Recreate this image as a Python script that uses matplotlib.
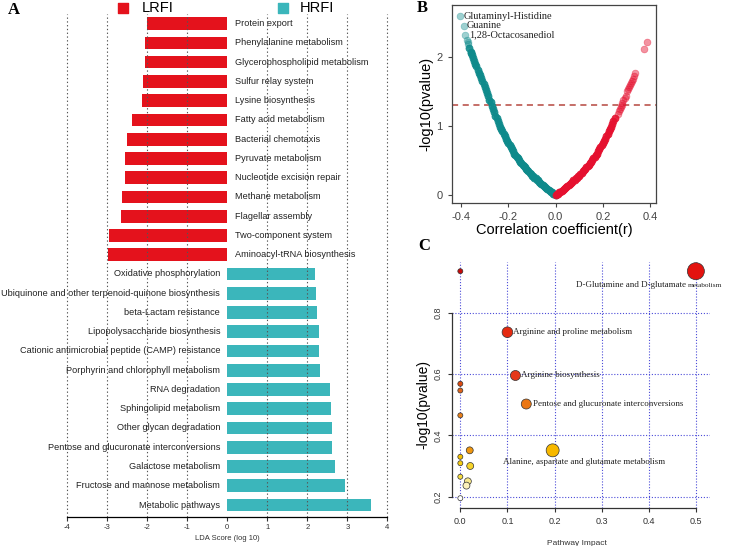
import matplotlib.pyplot as plt
import numpy as np

plt.rcParams['axes.unicode_minus'] = False
plt.rcParams['font.family'] = ['Liberation Sans', 'DejaVu Sans']

# ---- Panel A : LEfSe pathways
lrfi_paths = ["Protein export", "Phenylalanine metabolism", "Glycerophospholipid metabolism",
              "Sulfur relay system", "Lysine biosynthesis", "Fatty acid metabolism",
              "Bacterial chemotaxis", "Pyruvate metabolism", "Nucleotide excision repair",
              "Methane metabolism", "Flagellar assembly", "Two-component system",
              "Aminoacyl-tRNA biosynthesis"]
lrfi_lda = [-2.00, -2.05, -2.05, -2.12, -2.13, -2.38, -2.52, -2.55, -2.57, -2.64, -2.66, -2.95, -2.98]

hrfi_paths = ["Oxidative phosphorylation", "Ubiquinone and other terpenoid-quinone biosynthesis",
              "beta-Lactam resistance", "Lipopolysaccharide biosynthesis",
              "Cationic antimicrobial peptide (CAMP) resistance", "Porphyrin and chlorophyll metabolism",
              "RNA degradation", "Sphingolipid metabolism", "Other glycan degradation",
              "Pentose and glucuronate interconversions", "Galactose metabolism",
              "Fructose and mannose metabolism", "Metabolic pathways"]
hrfi_lda = [2.19, 2.22, 2.23, 2.28, 2.29, 2.32, 2.57, 2.60, 2.61, 2.62, 2.69, 2.95, 3.59]

# ---- Panel B : correlation volcano (r, -log10 p)
r_band = [0.000, 0.005, 0.010, 0.015, 0.020, 0.025, 0.030, 0.035, 0.040, 0.045, 0.050, 0.055,
          0.060, 0.065, 0.070, 0.075, 0.080, 0.085, 0.090, 0.095, 0.100, 0.105, 0.110, 0.115,
          0.120, 0.125, 0.130, 0.135, 0.140, 0.145, 0.150, 0.155, 0.160, 0.165, 0.170, 0.175,
          0.180, 0.185, 0.190, 0.195, 0.200, 0.205, 0.210, 0.215, 0.220, 0.225, 0.230, 0.235,
          0.240, 0.245, 0.250]
p_band = [0.00, 0.01, 0.02, 0.04, 0.05, 0.06, 0.07, 0.09, 0.10, 0.12, 0.13, 0.15,
          0.16, 0.18, 0.19, 0.21, 0.22, 0.24, 0.25, 0.27, 0.28, 0.30, 0.32, 0.34,
          0.36, 0.38, 0.40, 0.42, 0.44, 0.46, 0.48, 0.50, 0.53, 0.55, 0.58, 0.60,
          0.63, 0.66, 0.69, 0.72, 0.75, 0.78, 0.81, 0.85, 0.88, 0.92, 0.95, 0.99,
          1.03, 1.07, 1.11]
# negative side: dense band continues up to ~ -0.365
r_neg_dense = [-0.255, -0.260, -0.265, -0.270, -0.275, -0.280, -0.285, -0.290, -0.295, -0.300,
               -0.305, -0.310, -0.315, -0.320, -0.325, -0.330, -0.335, -0.340, -0.345, -0.350,
               -0.355, -0.358, -0.360, -0.365]
p_neg_dense = [1.15, 1.20, 1.25, 1.29, 1.34, 1.38, 1.43, 1.47, 1.52, 1.56,
               1.61, 1.65, 1.69, 1.73, 1.77, 1.81, 1.86, 1.90, 1.94, 1.98,
               2.03, 2.06, 2.07, 2.13]
r_neg_sparse = [-0.369, -0.373, -0.376, -0.382, -0.390, -0.404]
p_neg_sparse = [2.19, 2.22, 2.25, 2.32, 2.45, 2.59]
r_pos_sparse = [0.265, 0.270, 0.273, 0.277, 0.280, 0.283, 0.287, 0.292, 0.297, 0.303,
                0.308, 0.312, 0.316, 0.320, 0.324, 0.328, 0.333, 0.338, 0.376, 0.386]
p_pos_sparse = [1.17, 1.21, 1.24, 1.27, 1.30, 1.33, 1.37, 1.40, 1.44, 1.50,
                1.53, 1.56, 1.59, 1.62, 1.65, 1.68, 1.72, 1.76, 2.12, 2.21]
top_names = ["Glutaminyl-Histidine", "Guanine", "1,28-Octacosanediol"]
top_r = [-0.404, -0.390, -0.382]
top_p = [2.59, 2.45, 2.32]

# ---- Panel C : pathway analysis
impact = [0.0, 0.5, 0.10, 0.117, 0.14, 0.196, 0.0, 0.0, 0.0, 0.02, 0.0, 0.0, 0.021, 0.0, 0.016, 0.013, 0.0]
logp = [0.935, 0.935, 0.736, 0.595, 0.502, 0.351, 0.568, 0.546, 0.465, 0.351, 0.330, 0.309,
        0.300, 0.265, 0.250, 0.236, 0.195]
dot_size = [13, 150, 59, 52, 52, 87, 13, 13, 13, 25, 13, 13, 25, 13, 25, 25, 13]
dot_col = ['#c80a0a', '#e3130f', '#e42a10', '#e5381a', '#eb7612', '#f7b800', '#dd4a10', '#e0641a',
           '#e8801a', '#f0960e', '#f5c000', '#f6cc10', '#f6d32a', '#f6dc40', '#f9e98c', '#fcf1bb', '#ffffff']

W, H = 729, 546
fig = plt.figure(figsize=(W / 100, H / 100), dpi=100)


def axes_px(l, t, r, b):
    return fig.add_axes([l / W, 1 - b / H, (r - l) / W, (b - t) / H])


# ================= A
red, teal = '#e4121c', '#3bb6bb'
axA = axes_px(59.3, 14, 395.3, 517)
n = len(lrfi_paths) + len(hrfi_paths)
ypos = np.arange(n)[::-1]
ya, yb = ypos[:len(lrfi_paths)], ypos[len(lrfi_paths):]
axA.barh(ya, lrfi_lda, height=0.66, color=red, zorder=2)
axA.barh(yb, hrfi_lda, height=0.66, color=teal, zorder=2)
for y, lab in zip(ya, lrfi_paths):
    axA.text(0.19, y, lab, ha='left', va='center', fontsize=6.6, color='#222222', zorder=4)
for y, lab in zip(yb, hrfi_paths):
    axA.text(-0.18, y, lab, ha='right', va='center', fontsize=6.6, color='#222222', zorder=4)
for gx in [-4, -3, -2, -1, 1, 2, 3, 4]:
    axA.axvline(gx, color='#555555', ls=(0, (1.2, 2.2)), lw=0.8, zorder=3)
axA.set_xlim(-4.2, 4.2)
axA.set_ylim(-0.623, 25.5)
for s in ['top', 'right', 'left']:
    axA.spines[s].set_visible(False)
axA.spines['bottom'].set_bounds(-4, 4)
axA.spines['bottom'].set_linewidth(0.9)
axA.set_yticks([])
axA.set_xticks(range(-4, 5))
axA.tick_params(axis='x', labelsize=5.5, length=3, width=0.8, pad=2, colors='#333333')
axA.set_xlabel('LDA Score (log 10)', fontsize=5.5, labelpad=3, color='#333333')
# legend
axA.scatter([-2.6], [25.8], marker='s', s=46, color=red, clip_on=False)
axA.text(-2.14, 25.8, 'LRFI', fontsize=10.5, va='center', ha='left', clip_on=False)
axA.scatter([1.4], [25.8], marker='s', s=46, color=teal, clip_on=False)
axA.text(1.82, 25.8, 'HRFI', fontsize=10.5, va='center', ha='left', clip_on=False)

# ================= B
axB = axes_px(451.7, 5, 656, 203)
r_neg_band = [-v for v in r_band]
pt_red, pt_teal = '#e5102f', '#0e8a8b'
axB.scatter(r_neg_band + r_neg_dense, p_band + p_neg_dense, s=26, color=pt_teal,
            alpha=0.9, linewidths=0.5, zorder=3)
axB.scatter(r_neg_sparse, p_neg_sparse, s=24, color=pt_teal, alpha=0.4, linewidths=0.5, zorder=3)
axB.scatter(r_band, p_band, s=26, color=pt_red, alpha=0.9, linewidths=0.5, zorder=3)
axB.scatter(r_pos_sparse, p_pos_sparse, s=24, color=pt_red, alpha=0.45, linewidths=0.5, zorder=3)
axB.axhline(1.3, color='#b5473f', ls=(0, (4, 3)), lw=1.1, zorder=2)
for name, x, y in zip(top_names, top_r, top_p):
    axB.annotate(name, (x, y), xytext=(2.5, 0), textcoords='offset points', va='center',
                 fontsize=7.5, family='Liberation Serif', color='#222222')
axB.set_xlim(-0.44, 0.425)
axB.set_ylim(-0.116, 2.75)
axB.set_xticks([-0.4, -0.2, 0.0, 0.2, 0.4])
axB.set_yticks([0, 1, 2])
for s in axB.spines.values():
    s.set_color('#444444')
    s.set_linewidth(0.9)
axB.tick_params(labelsize=8, length=3, width=0.8, colors='#444444', labelcolor='#444444')
axB.set_xlabel('Correlation coefficient(r)', fontsize=10.5, labelpad=1)
axB.set_ylabel('-log10(pvalue)', fontsize=10.5, labelpad=2)

# ================= C
axC = axes_px(451.7, 262, 710, 507.7)
axC.set_xlim(-0.0183, 0.53)
axC.set_ylim(0.164, 0.965)
for gx in [0.0, 0.1, 0.2, 0.3, 0.4, 0.5]:
    axC.axvline(gx, color='#4a4ad8', ls=(0, (1, 1.6)), lw=0.8, zorder=1)
for gy in [0.2, 0.4, 0.6, 0.8]:
    axC.axhline(gy, color='#4a4ad8', ls=(0, (1, 1.6)), lw=0.8, zorder=1)
axC.scatter(impact, logp, s=dot_size, c=dot_col, edgecolors='#333333', linewidths=0.5, zorder=3,
            clip_on=False)
serif = dict(family='Liberation Serif', fontsize=6.5, color='#222222', va='center')
axC.text(0.112, 0.736, 'Arginine and proline metabolism', ha='left', **serif)
axC.text(0.128, 0.595, 'Arginine biosynthesis', ha='left', **serif)
axC.text(0.154, 0.502, 'Pentose and glucuronate interconversions', ha='left', **serif)
axC.text(0.263, 0.314, 'Alanine, aspartate and glutamate metabolism', ha='center', **serif)
axC.text(0.483, 0.89, 'D-Glutamine and D-glutamate ', ha='right', **serif)
axC.text(0.483, 0.888, 'metabolism', ha='left', family='Liberation Serif', fontsize=5.2,
         color='#222222', va='center', clip_on=False)
for s in ['top', 'right']:
    axC.spines[s].set_visible(False)
axC.spines['left'].set_bounds(0.2, 0.8)
axC.spines['bottom'].set_bounds(0.0, 0.5)
for s in ['left', 'bottom']:
    axC.spines[s].set_color('#333333')
    axC.spines[s].set_linewidth(0.9)
axC.set_xticks([0.0, 0.1, 0.2, 0.3, 0.4, 0.5])
axC.set_yticks([0.2, 0.4, 0.6, 0.8])
axC.tick_params(labelsize=6.5, length=3, width=0.8, colors='#333333', labelcolor='#333333')
plt.setp(axC.get_yticklabels(), rotation=90, va='center')
axC.set_xlabel('Pathway Impact', fontsize=6, color='#333333')
axC.xaxis.set_label_coords(0.484, -0.13)
axC.set_ylabel('-log10(pvalue)', fontsize=10)
axC.yaxis.set_label_coords(-0.084, 0.418)

# panel letters
for lab, x, y in [('A', 8, 10), ('B', 417, 8), ('C', 418, 246)]:
    fig.text(x / W, 1 - y / H, lab, fontsize=12, fontweight='bold', family='Liberation Serif',
             va='center', ha='left')

fig.savefig('out.png', dpi=100)
